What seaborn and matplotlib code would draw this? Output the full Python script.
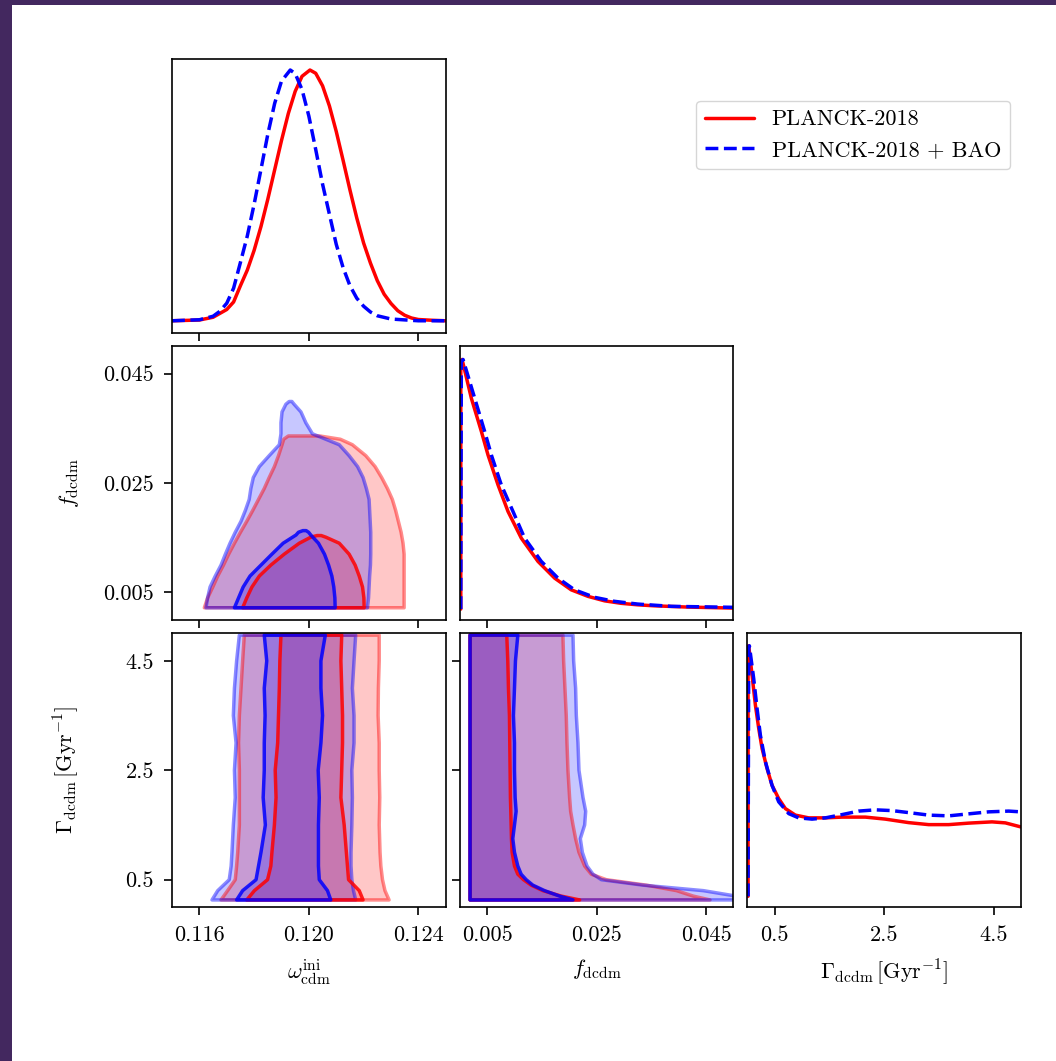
import matplotlib
matplotlib.use("Agg")
import matplotlib.pyplot as plt
import seaborn as sns
from matplotlib.colors import to_rgba
from matplotlib.lines import Line2D
from matplotlib.patches import Rectangle

# ---- 1D posteriors (normalised to peak = 1) ----
om_x_r = [0.11500, 0.11600, 0.11650, 0.11700, 0.11725, 0.11750, 0.11775, 0.11800, 0.11825, 0.11850,
          0.11875, 0.11900, 0.11925, 0.11950, 0.11975, 0.12004, 0.12025, 0.12050, 0.12075, 0.12100,
          0.12125, 0.12150, 0.12175, 0.12200, 0.12225, 0.12250, 0.12275, 0.12300, 0.12325, 0.12350,
          0.12375, 0.12400, 0.12450, 0.12500]
om_p_r = [0.0, 0.003, 0.014, 0.045, 0.075, 0.140, 0.202, 0.281, 0.376, 0.485,
          0.602, 0.719, 0.827, 0.915, 0.975, 1.0, 0.987, 0.937, 0.857, 0.755,
          0.640, 0.522, 0.410, 0.310, 0.230, 0.160, 0.106, 0.069, 0.040, 0.022,
          0.011, 0.005, 0.002, 0.0]
om_x_b = [0.11500, 0.11600, 0.11650, 0.11675, 0.11700, 0.11725, 0.11750, 0.11775, 0.11800, 0.11825,
          0.11850, 0.11875, 0.11900, 0.11932, 0.11950, 0.11975, 0.12000, 0.12025, 0.12050, 0.12075,
          0.12100, 0.12125, 0.12150, 0.12175, 0.12200, 0.12225, 0.12250, 0.12300, 0.12400, 0.12500]
om_p_b = [0.0, 0.004, 0.018, 0.038, 0.070, 0.130, 0.233, 0.338, 0.465, 0.604,
          0.744, 0.867, 0.956, 1.0, 0.986, 0.922, 0.816, 0.683, 0.545, 0.425,
          0.305, 0.212, 0.140, 0.090, 0.058, 0.035, 0.020, 0.007, 0.0, 0.0]

f_x_r = [0.0002, 0.0002, 0.00044, 0.00214, 0.00397, 0.00518, 0.00701, 0.00883, 0.01126, 0.01430,
         0.01734, 0.02038, 0.02342, 0.02646, 0.02950, 0.03254, 0.03558, 0.04166, 0.0500]
f_p_r = [0.0, 0.991, 1.0, 0.844, 0.711, 0.617, 0.497, 0.391, 0.284, 0.191,
         0.124, 0.077, 0.051, 0.033, 0.023, 0.017, 0.013, 0.008, 0.004]
f_x_b = [0.0002, 0.0003, 0.00062, 0.00275, 0.00457, 0.00579, 0.00761, 0.00974, 0.01187, 0.01491,
         0.01795, 0.02099, 0.02464, 0.02828, 0.03254, 0.03862, 0.0500]
f_p_b = [0.0, 0.991, 1.0, 0.844, 0.711, 0.617, 0.497, 0.391, 0.284, 0.191,
         0.124, 0.077, 0.047, 0.031, 0.020, 0.011, 0.007]

g_x_r = [0.013, 0.013, 0.025, 0.086, 0.147, 0.208, 0.269, 0.360, 0.451, 0.573, 0.695, 0.877,
         1.121, 1.425, 1.730, 2.156, 2.521, 2.947, 3.313, 3.678, 4.043, 4.469, 4.713, 4.993]
g_p_r = [0.0, 0.989, 1.0, 0.883, 0.763, 0.670, 0.590, 0.510, 0.443, 0.390, 0.350, 0.324,
         0.313, 0.313, 0.316, 0.316, 0.308, 0.294, 0.286, 0.286, 0.292, 0.297, 0.293, 0.277]
g_x_b = [0.013, 0.025, 0.037, 0.116, 0.177, 0.238, 0.330, 0.451, 0.573, 0.756, 0.938, 1.182,
         1.425, 1.730, 2.034, 2.339, 2.643, 2.947, 3.313, 3.678, 4.043, 4.408, 4.774, 4.993]
g_p_b = [0.0, 0.989, 1.0, 0.869, 0.750, 0.643, 0.537, 0.443, 0.377, 0.330, 0.313, 0.308,
         0.313, 0.326, 0.340, 0.345, 0.342, 0.334, 0.324, 0.321, 0.329, 0.337, 0.340, 0.337]

# ---- 2D contours: omega vs f (left/right boundary per f level) ----
of_r95_y = [0.0022, 0.004, 0.006, 0.008, 0.010, 0.012, 0.014, 0.016, 0.018, 0.020, 0.022, 0.024,
            0.026, 0.028, 0.030, 0.032, 0.0330, 0.0336]
of_r95_l = [0.11618, 0.11630, 0.11649, 0.11667, 0.11688, 0.11707, 0.11728, 0.11750, 0.11773, 0.11795,
            0.11816, 0.11837, 0.11855, 0.11874, 0.11889, 0.11902, 0.11908, 0.11925]
of_r95_r = [0.12348, 0.12348, 0.12348, 0.12348, 0.12348, 0.12348, 0.12344, 0.12337, 0.12327, 0.12317,
            0.12305, 0.12287, 0.12266, 0.12242, 0.12208, 0.12159, 0.12115, 0.12040]
of_r68_y = [0.0022, 0.004, 0.006, 0.008, 0.010, 0.012, 0.014, 0.0151, 0.0154]
of_r68_l = [0.11758, 0.11773, 0.11792, 0.11819, 0.11861, 0.11910, 0.11965, 0.12007, 0.12030]
of_r68_r = [0.12202, 0.12201, 0.12196, 0.12184, 0.12169, 0.12147, 0.12111, 0.12062, 0.12045]
of_b95_y = [0.0022, 0.004, 0.006, 0.008, 0.010, 0.012, 0.014, 0.016, 0.018, 0.020, 0.022, 0.024,
            0.026, 0.028, 0.030, 0.032, 0.034, 0.036, 0.038, 0.0394, 0.0399]
of_b95_l = [0.11624, 0.11630, 0.11639, 0.11658, 0.11679, 0.11695, 0.11712, 0.11731, 0.11752, 0.11768,
            0.11782, 0.11788, 0.11797, 0.11819, 0.11855, 0.11892, 0.11898, 0.11898, 0.11902, 0.11916,
            0.11928]
of_b95_r = [0.12214, 0.12218, 0.12220, 0.12222, 0.12225, 0.12226, 0.12226, 0.12226, 0.12224, 0.12222,
            0.12220, 0.12210, 0.12198, 0.12178, 0.12147, 0.12111, 0.12013, 0.11989, 0.11971, 0.11946,
            0.11938]
of_b68_y = [0.0022, 0.004, 0.006, 0.008, 0.010, 0.012, 0.014, 0.0155, 0.0160, 0.0163]
of_b68_l = [0.11728, 0.11743, 0.11760, 0.11785, 0.11825, 0.11865, 0.11906, 0.11953, 0.11962, 0.11978]
of_b68_r = [0.12096, 0.12095, 0.12091, 0.12084, 0.12072, 0.12057, 0.12035, 0.12007, 0.11999, 0.11990]

# ---- 2D contours: omega vs Gamma ----
og_y = [0.13, 0.3, 0.5, 0.75, 1.0, 1.5, 2.0, 2.5, 3.0, 3.5, 4.0, 4.5, 4.97]
og_r95_l = [0.11679, 0.11703, 0.11731, 0.11736, 0.11740, 0.11746, 0.11746, 0.11746, 0.11743, 0.11746, 0.11752, 0.11758, 0.11764]
og_r95_r = [0.12293, 0.12278, 0.12269, 0.12263, 0.12260, 0.12257, 0.12259, 0.12257, 0.12257, 0.12253, 0.12254, 0.12257, 0.12257]
og_r68_l = [0.11773, 0.11801, 0.11849, 0.11861, 0.11865, 0.11874, 0.11880, 0.11877, 0.11886, 0.11889, 0.11892, 0.11894, 0.11898]
og_r68_r = [0.12198, 0.12184, 0.12145, 0.12141, 0.12137, 0.12129, 0.12117, 0.12120, 0.12123, 0.12123, 0.12120, 0.12117, 0.12120]
og_b95_l = [0.11646, 0.11667, 0.11709, 0.11716, 0.11719, 0.11724, 0.11731, 0.11728, 0.11734, 0.11724, 0.11728, 0.11736, 0.11746]
og_b95_r = [0.12171, 0.12163, 0.12157, 0.12154, 0.12154, 0.12157, 0.12159, 0.12157, 0.12165, 0.12165, 0.12159, 0.12165, 0.12171]
og_b68_l = [0.11736, 0.11758, 0.11807, 0.11816, 0.11825, 0.11841, 0.11833, 0.11837, 0.11837, 0.11840, 0.11837, 0.11846, 0.11837]
og_b68_r = [0.12080, 0.12068, 0.12038, 0.12035, 0.12035, 0.12035, 0.12038, 0.12034, 0.12044, 0.12050, 0.12044, 0.12044, 0.12060]

# ---- 2D contours: f vs Gamma (all start at the f lower edge) ----
fg_y = [0.13, 0.2, 0.3, 0.4, 0.5, 0.6, 0.75, 1.0, 1.25, 1.5, 1.75, 2.0, 2.5, 3.0, 3.5, 4.0, 4.5, 4.97]
fg_left = 0.0019
fg_r68 = [0.02192, 0.01856, 0.01520, 0.01306, 0.01166, 0.01062, 0.01001, 0.00958, 0.00946, 0.00940,
          0.00934, 0.00927, 0.00921, 0.00915, 0.00909, 0.00891, 0.00879, 0.00860]
fg_b68 = [0.02070, 0.01825, 0.01550, 0.01337, 0.01215, 0.01123, 0.01062, 0.01001, 0.00970, 0.01001,
          0.01031, 0.01013, 0.01001, 0.01001, 0.00982, 0.01001, 0.01019, 0.01062]
fg_r95 = [0.04573, 0.04268, 0.03963, 0.03413, 0.02680, 0.02405, 0.02283, 0.02179, 0.02118, 0.02070,
          0.02027, 0.02008, 0.01978, 0.01960, 0.01947, 0.01923, 0.01899, 0.01886]
fg_b95 = [0.0510, 0.0505, 0.04451, 0.03352, 0.02589, 0.02436, 0.02326, 0.02241, 0.02204, 0.02283,
          0.02302, 0.02253, 0.02179, 0.02161, 0.02131, 0.02118, 0.02082, 0.02070]

om_ticks = [0.116, 0.120, 0.124]
f_ticks = [0.005, 0.025, 0.045]
g_ticks = [0.5, 2.5, 4.5]
om_lab = ["0.116", "0.120", "0.124"]
f_lab = ["0.005", "0.025", "0.045"]
g_lab = ["0.5", "2.5", "4.5"]
series = ["PLANCK-2018", "PLANCK-2018 + BAO"]

sns.set_style("ticks")
plt.rcParams["font.family"] = ["cmr10", "DejaVu Serif"]
plt.rcParams["mathtext.fontset"] = "cm"
plt.rcParams["axes.formatter.use_mathtext"] = True
plt.rcParams["axes.edgecolor"] = "black"
plt.rcParams["axes.linewidth"] = 1.2
for k in ["text.color", "axes.labelcolor", "xtick.color", "ytick.color"]:
    plt.rcParams[k] = "black"

LW = 2.5

fig, axes = plt.subplots(3, 3, figsize=(10.56, 10.61), dpi=100)
fig.subplots_adjust(left=0.1629, right=0.9669, bottom=0.1451, top=0.9444, wspace=0.051, hspace=0.05)
fig.patch.set_facecolor("#43285f")
fig.patches.append(Rectangle((12 / 1056, 0), 1, 1 - 5 / 1061, transform=fig.transFigure,
                             facecolor="white", edgecolor="none", zorder=-10))
for ax in [axes[0, 1], axes[0, 2], axes[1, 2]]:
    ax.set_visible(False)


def contours(ax, r95, r68, b95, b68):
    # each entry: (y, x_left, x_right); fills first, outlines on top
    for (y, xl, xr), c in [(r95, "red"), (r68, "red"), (b95, "blue"), (b68, "blue")]:
        ax.fill_betweenx(y, xl, xr, facecolor=to_rgba(c, 0.22), edgecolor="none")
    for (y, xl, xr), c, a in [(r95, "red", 0.45), (b95, "blue", 0.45), (r68, "red", 0.85), (b68, "blue", 0.85)]:
        ax.fill_betweenx(y, xl, xr, facecolor="none", edgecolor=to_rgba(c, a), lw=LW)


def line1d(ax, x, p, color, ls):
    sns.lineplot(x=x, y=p, ax=ax, color=color, linewidth=LW, linestyle=ls, estimator=None, sort=False)


# diagonals
line1d(axes[0, 0], om_x_r, om_p_r, "red", "-")
line1d(axes[0, 0], om_x_b, om_p_b, "blue", "--")
axes[0, 0].set_ylim(-0.047, 1.044)
line1d(axes[1, 1], f_x_r, f_p_r, "red", "-")
line1d(axes[1, 1], f_x_b, f_p_b, "blue", "--")
axes[1, 1].set_ylim(-0.043, 1.053)
line1d(axes[2, 2], g_x_r, g_p_r, "red", "-")
line1d(axes[2, 2], g_x_b, g_p_b, "blue", "--")
axes[2, 2].set_ylim(-0.043, 1.049)
for ax in [axes[0, 0], axes[1, 1], axes[2, 2]]:
    ax.set_yticks([])

contours(axes[1, 0], (of_r95_y, of_r95_l, of_r95_r), (of_r68_y, of_r68_l, of_r68_r),
         (of_b95_y, of_b95_l, of_b95_r), (of_b68_y, of_b68_l, of_b68_r))
contours(axes[2, 0], (og_y, og_r95_l, og_r95_r), (og_y, og_r68_l, og_r68_r),
         (og_y, og_b95_l, og_b95_r), (og_y, og_b68_l, og_b68_r))
contours(axes[2, 1], (fg_y, fg_left, fg_r95), (fg_y, fg_left, fg_r68),
         (fg_y, fg_left, fg_b95), (fg_y, fg_left, fg_b68))

# limits and ticks
for ax in axes[:, 0]:
    ax.set_xlim(0.115, 0.125)
    ax.set_xticks(om_ticks)
for ax in axes[1:, 1]:
    ax.set_xlim(0.0, 0.05)
    ax.set_xticks(f_ticks)
axes[2, 2].set_xlim(0.0, 5.0)
axes[2, 2].set_xticks(g_ticks)
axes[1, 0].set_ylim(0.0, 0.05)
axes[1, 0].set_yticks(f_ticks)
for ax in axes[2, :2]:
    ax.set_ylim(0.0, 5.0)
    ax.set_yticks(g_ticks)

for ax in axes.flat:
    ax.tick_params(length=6, width=1.2, labelsize=16, pad=7)
    ax.set_xlabel("")
    ax.set_ylabel("")
    if ax not in axes[2, :]:
        ax.set_xticklabels([])
axes[1, 1].set_yticklabels([])
axes[2, 1].set_yticklabels([])
axes[2, 0].set_xticklabels(om_lab)
axes[2, 1].set_xticklabels(f_lab)
axes[2, 2].set_xticklabels(g_lab)
axes[1, 0].set_yticklabels(f_lab)
axes[2, 0].set_yticklabels(g_lab)

axes[2, 0].set_xlabel(r"$\omega_{\rm cdm}^{\rm ini}$", fontsize=16, labelpad=9)
axes[2, 1].set_xlabel(r"$f_{\rm dcdm}$", fontsize=16, labelpad=9)
axes[2, 2].set_xlabel(r"$\Gamma_{\rm dcdm}\,[\mathrm{Gyr}^{-1}]$", fontsize=16, labelpad=9)
axes[1, 0].set_ylabel(r"$f_{\rm dcdm}$", fontsize=16, labelpad=16)
axes[2, 0].set_ylabel(r"$\Gamma_{\rm dcdm}\,[\mathrm{Gyr}^{-1}]$", fontsize=16, labelpad=16)
fig.align_ylabels(axes[1:, 0])

handles = [Line2D([], [], color="red", lw=LW), Line2D([], [], color="blue", lw=LW, ls="--")]
fig.legend(handles, series, loc="upper right", bbox_to_anchor=(1010 / 1056, 1 - 101 / 1061),
           fontsize=16, handlelength=2.2, frameon=True, edgecolor="0.8", borderaxespad=0)

fig.savefig("out.png", dpi=100, facecolor=fig.get_facecolor())
